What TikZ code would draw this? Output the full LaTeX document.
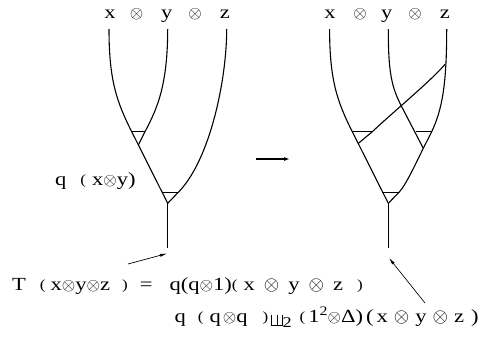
\documentclass[tikz,border=0pt]{standalone}
\usepackage{fontspec}
\setmainfont{Liberation Serif}[FakeStretch=1.22]
\usetikzlibrary{arrows.meta}
\newcommand\myot{\ensuremath{\otimes}}
\newcommand\bigot{\scalebox{1.15}{\ensuremath{\otimes}}}
\newcommand\smp[1]{\raisebox{0.8pt}{\fontsize{14}{14}\selectfont #1}}
\newcommand\mysub[1]{\raisebox{-5pt}{\fontsize{15}{15}\selectfont #1}}
\newcommand\mysup[1]{\raisebox{7pt}{\fontsize{13}{13}\selectfont #1}}
% shuffle product symbol (no installed family has U+29E2): drawn with rules
\newcommand\shuf{\raisebox{-4pt}{\rule{0.8pt}{11.5pt}\hspace{4.4pt}\rule{0.8pt}{11.5pt}\hspace{4.4pt}\rule{0.8pt}{11.5pt}\hspace{-11.2pt}\rule{11.2pt}{0.8pt}}}
\begin{document}
\begin{tikzpicture}[x=1pt,y=-1pt,
  strand/.style={line width=1.1pt},
  lbl/.style={font=\fontsize{18.5}{20}\selectfont, inner sep=0pt, anchor=base},
  eq/.style={font=\fontsize{18.5}{20}\selectfont, inner sep=0pt, anchor=base west},
  arr/.style={line width=0.7pt,-{Latex[length=7pt,width=3.2pt]}}]
\useasboundingbox (0,0) rectangle (492,341);
% ---------- left labels
\node[lbl] (lx) at (110,18) {x};
\node[lbl] (lo1) at (136.7,18) {\myot};
\node[lbl] (ly) at (166.7,18) {y};
\node[lbl] (lo2) at (195,18) {\myot};
\node[lbl] (lz) at (225,18) {z};
% ---------- right labels
\node[lbl] (rx) at (330,18) {x};
\node[lbl] (ro1) at (360,18) {\myot};
\node[lbl] (ry) at (386.7,18) {y};
\node[lbl] (ro2) at (415,18) {\myot};
\node[lbl] (rz) at (445,18) {z};
% ---------- left tree
\coordinate (LxT) at (109,29);
\coordinate (LyT) at (167.7,29);
\coordinate (LzT) at (226.7,29);
\coordinate (LaL) at (131.7,131.7);
\coordinate (LaR) at (145,131.7);
\coordinate (LaV) at (138.3,145);
\coordinate (LbL) at (161.7,192.3);
\coordinate (LbR) at (178.3,192.3);
\coordinate (LbV) at (167.7,203.3);
\coordinate (Lroot) at (167.7,248.3);
\draw[strand] (LxT) .. controls (109,80) and (116.6,101.7) .. (LaL) -- (LbV);
\draw[strand] (LyT) .. controls (167.7,90) and (155,112) .. (LaR) -- (LaV);
\draw[strand] (LzT) .. controls (226.7,80) and (210,160) .. (LbR) -- (LbV);
\draw[strand] (LaL) -- (LaR);
\draw[strand] (LbL) -- (LbR);
\draw[strand] (LbV) -- (Lroot);
% ---------- right tree
\coordinate (RxT) at (329.6,29);
\coordinate (RyT) at (388.3,29);
\coordinate (RzT) at (446.7,29);
\coordinate (RaL) at (352.3,131.7);
\coordinate (RaR) at (372.3,131.7);
\coordinate (RaE) at (358.4,143.3);
\coordinate (RcS) at (445.3,64);
\coordinate (RyM) at (401.7,106.7);
\coordinate (RcL) at (415.7,131.7);
\coordinate (RcR) at (431.7,131.7);
\coordinate (RcV) at (423.3,148.3);
\coordinate (RbL) at (382.3,192.3);
\coordinate (RbR) at (399,192.3);
\coordinate (RbV) at (388.3,203.3);
\coordinate (Rroot) at (388.3,248.3);
\draw[strand] (RxT) .. controls (329.6,80) and (337.2,101.7) .. (RaL) -- (RbV);
\draw[strand] (RcS) .. controls (432,80) and (392,113) .. (RaR) -- (RaE);
\draw[strand] (RyT) .. controls (388.3,72) and (391.3,86.7) .. (RyM) -- (RcV);
\draw[strand] (RzT) .. controls (446.7,85) and (442,110) .. (RcR) -- (RcV);
\draw[strand] (RcV) .. controls (417.3,160.3) and (406,185.1) .. (RbR) -- (RbV);
\draw[strand] (RaL) -- (RaR);
\draw[strand] (RcL) -- (RcR);
\draw[strand] (RbL) -- (RbR);
\draw[strand] (RbV) -- (Rroot);
% ---------- middle arrow
\coordinate (mA) at (256,159);
\coordinate (mB) at (290,159);
\draw[line width=1.2pt,-{Latex[length=6pt,width=4pt]}] (mA) -- (mB);
% ---------- labels
\node[eq] (qxy) at (55,185) {q\hspace{14pt}\smp{(}\hspace{6pt}x\myot y)};
\node[eq] (Teq) at (12,290) {T\hspace{14pt}\smp{(}\hspace{5pt}x\myot y\myot z\hspace{12pt}\smp{)}\hspace{12pt}=\hspace{17pt}q(q\myot 1)\smp{(}\hspace{6pt}x\hspace{9pt}\bigot\hspace{9pt}y\hspace{9pt}\bigot\hspace{9pt}z\hspace{14pt}\smp{)}};
\node[eq] (Seq) at (174.5,322) {q\hspace{12pt}\smp{(}\hspace{6pt}q\hspace{2pt}\myot q\hspace{15pt}\smp{)}\hspace{3pt}\shuf\mysub{2}\hspace{8pt}\smp{(}\hspace{3pt}1\mysup{2}\myot Δ)\hspace{3pt}(\hspace{3pt}x\hspace{6pt}\bigot\hspace{6pt}y\hspace{6pt}\bigot\hspace{6pt}z\hspace{7pt})};
\coordinate (a1s) at (128,264);
\coordinate (a1e) at (167,253.5);
\coordinate (a2s) at (425,303);
\coordinate (a2e) at (389,258);
\draw[arr] (a1s) -- (a1e);
\draw[arr] (a2s) -- (a2e);
\end{tikzpicture}
\end{document}
